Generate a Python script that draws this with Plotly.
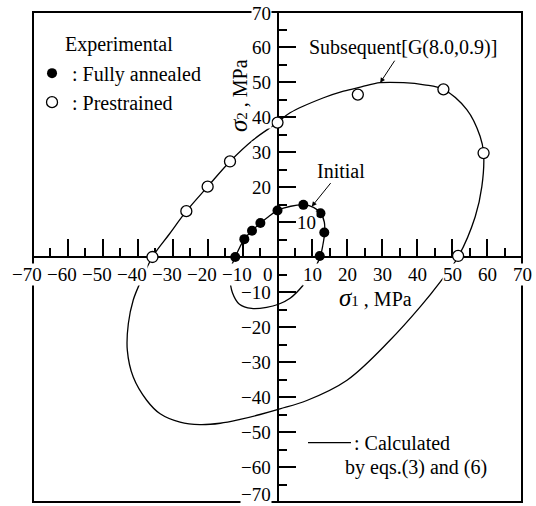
import plotly.graph_objects as go

# ---- data (MPa) ----
annealed_s1 = [-12.1, -9.5, -7.3, -4.9, 0.0, 7.4, 12.3, 13.4, 12.1]
annealed_s2 = [0.0, 5.1, 7.5, 9.7, 13.3, 14.9, 12.5, 7.0, 0.3]

prestrained_s1 = [-35.8, -26.1, -20.0, -13.6, 0.0, 23.0, 47.5, 59.0, 51.7]
prestrained_s2 = [0.0, 13.1, 20.1, 27.3, 38.4, 46.4, 47.9, 29.7, 0.3]

initial_s1 = [-7.4, -3.1, 0.3, 3.6, 7.4, 10.2, 12.2, 13.0, 13.5, 13.4, 12.4, 10.3, 7.6, 3.8, 0.0,
              -2.5, -4.9, -7.3, -9.5, -12.1, -13.3, -13.6, -12.9, -10.9, -7.4]
initial_s2 = [-14.7, -14.4, -13.5, -11.8, -8.0, -4.0, 0.0, 3.5, 7.0, 10.0, 12.5, 14.2, 14.9, 14.5, 13.3,
              11.6, 9.7, 7.5, 5.1, 0.0, -3.0, -6.0, -10.2, -13.5, -14.7]

subsequent_s1 = [36.1, 42.0, 47.5, 54.2, 58.0, 59.0, 58.5, 56.6, 51.7, 46.6, 40.9, 32.2, 19.9, 8.4,
                 0.7, -5.0, -10.7, -16.4, -22.2, -27.9, -33.6, -37.4, -41.3, -43.0, -42.7, -41.3,
                 -39.4, -35.8, -31.0, -26.1, -20.0, -13.6, -6.9, 0.0, 3.6, 13.2, 18.9, 24.0, 29.4, 36.1]
subsequent_s2 = [49.8, 49.2, 47.9, 42.1, 34.5, 29.7, 20.1, 11.5, 0.0, -7.1, -14.2, -23.8, -35.2, -41.0,
                 -43.4, -45.0, -46.4, -47.5, -47.9, -47.2, -44.8, -41.0, -34.3, -26.6, -19.0, -12.3,
                 -7.5, 0.0, 6.5, 13.1, 20.1, 27.3, 33.5, 38.4, 41.2, 45.5, 47.4, 48.6, 49.8, 49.8]

tick_vals = [-70, -60, -50, -40, -30, -20, -10, 0, 10, 20, 30, 40, 50, 60, 70]
x_tick_labels = ["−70", "−60", "−50", "−40", "−30", "−20", "−10", "0",
                 "10", "20", "30", "40", "50", "60", "70"]
y_tick_labels = ["−70", "−60", "−50", "−40", "−30", "−20", "−10", "",
                 "10", "20", "30", "40", "50", "60", "70"]

FONT = "Liberation Serif, Times New Roman, Times, serif"
TICK_FS = 19
TEXT_FS = 20

fig = go.Figure()

fig.add_trace(go.Scatter(x=subsequent_s1, y=subsequent_s2, mode="lines",
                         line=dict(color="black", width=1.3, shape="spline", smoothing=1.0),
                         showlegend=False, hoverinfo="skip"))
fig.add_trace(go.Scatter(x=initial_s1, y=initial_s2, mode="lines",
                         line=dict(color="black", width=1.3, shape="spline", smoothing=1.0),
                         showlegend=False, hoverinfo="skip"))
fig.add_trace(go.Scatter(x=annealed_s1, y=annealed_s2, mode="markers", name=": Fully annealed",
                         marker=dict(symbol="circle", size=10, color="black",
                                     line=dict(color="black", width=0))))
fig.add_trace(go.Scatter(x=prestrained_s1, y=prestrained_s2, mode="markers", name=": Prestrained",
                         marker=dict(symbol="circle", size=11, color="white",
                                     line=dict(color="black", width=1.3))))

axis_common = dict(range=[-70, 70], showgrid=False, zeroline=False, showticklabels=False,
                   showline=True, linecolor="black", linewidth=2,
                   tickmode="array", tickvals=tick_vals,
                   ticks="inside", ticklen=17, tickwidth=1.5, tickcolor="black",
                   minor=dict(dtick=5, tick0=0, ticks="inside", ticklen=8, tickwidth=1.5,
                              tickcolor="black", showgrid=False),
                   anchor="free", position=0.5, layer="below traces", fixedrange=True)

fig.update_layout(
    width=536, height=506,
    margin=dict(l=33, r=14, t=12, b=4),
    paper_bgcolor="white", plot_bgcolor="white",
    font=dict(family=FONT, size=TEXT_FS, color="black"),
    xaxis=dict(side="bottom", **axis_common),
    yaxis=dict(side="left", **axis_common),
    showlegend=True,
    legend=dict(x=-0.002, y=0.915, xanchor="left", yanchor="top",
                font=dict(family=FONT, size=TEXT_FS, color="black"),
                bgcolor="rgba(0,0,0,0)", borderwidth=0, itemclick=False, itemdoubleclick=False),
)

# frame
fig.add_shape(type="rect", xref="paper", yref="paper", x0=0, x1=1, y0=0, y1=1,
              line=dict(color="black", width=2), layer="below")

annots = []
# tick labels on the crossing axes (white boxes break the lines, as in the original)
for v, t in zip(tick_vals, x_tick_labels):
    if not t:
        continue
    xs = -6 if v < 0 else (-10 if v == 0 else 0)
    annots.append(dict(x=v, y=0, xref="x", yref="y", text=t, showarrow=False,
                       xanchor="center", yanchor="top", xshift=xs, yshift=-6,
                       bgcolor="white", borderpad=0,
                       font=dict(family=FONT, size=TICK_FS, color="black")))
for v, t in zip(tick_vals, y_tick_labels):
    if not t:
        continue
    if v == 10:
        annots.append(dict(x=0, y=v, xref="x", yref="y", text=t, showarrow=False,
                           xanchor="left", yanchor="middle", xshift=18,
                           bgcolor="white", borderpad=0,
                           font=dict(family=FONT, size=TICK_FS, color="black")))
    elif v == -70:
        annots.append(dict(x=0, y=v, xref="x", yref="y", text=t, showarrow=False,
                           xanchor="right", yanchor="bottom", xshift=-6, yshift=-4,
                           bgcolor="white", borderpad=0,
                           font=dict(family=FONT, size=TICK_FS, color="black")))
    else:
        ys = -1 if v == 70 else 0
        annots.append(dict(x=0, y=v, xref="x", yref="y", text=t, showarrow=False,
                           xanchor="right", yanchor="middle", xshift=-6, yshift=ys,
                           bgcolor="white", borderpad=0,
                           font=dict(family=FONT, size=TICK_FS, color="black")))

# axis titles
annots.append(dict(x=17.0, y=-11.6, xref="x", yref="y", showarrow=False,
                   xanchor="left", yanchor="middle",
                   text='<span style="font-size:25px"><i>σ</i></span><span style="font-size:15px">1</span> , MPa'))
annots.append(dict(x=-11.3, y=46.0, xref="x", yref="y", showarrow=False, textangle=-90,
                   xanchor="center", yanchor="middle",
                   text='<span style="font-size:25px"><i>σ</i></span><span style="font-size:15px">2</span> , MPa'))

# curve labels with arrows
annots.append(dict(x=29.4, y=49.8, xref="x", yref="y", text="Subsequent[G(8.0,0.9)]",
                   showarrow=True, arrowhead=2, arrowsize=1, arrowwidth=1, arrowcolor="black",
                   ax=23, ay=-35, standoff=0))
annots.append(dict(x=9.8, y=14.4, xref="x", yref="y", text="Initial",
                   showarrow=True, arrowhead=2, arrowsize=1, arrowwidth=1, arrowcolor="black",
                   ax=29, ay=-36, standoff=0))

# legend texts
annots.append(dict(x=0.061, y=0.933, xref="paper", yref="paper", text="Experimental",
                   showarrow=False, xanchor="left", yanchor="middle"))
annots.append(dict(x=0.652, y=0.1204, xref="paper", yref="paper", text=": Calculated",
                   showarrow=False, xanchor="left", yanchor="middle"))
annots.append(dict(x=0.634, y=0.0714, xref="paper", yref="paper", text="by eqs.(3) and (6)",
                   showarrow=False, xanchor="left", yanchor="middle"))

fig.add_shape(type="line", xref="paper", yref="paper", x0=0.5624, x1=0.6503, y0=0.121, y1=0.121,
              line=dict(color="black", width=1.2))

fig.update_layout(annotations=annots)

fig.write_html("out.html", config={"displayModeBar": False})
